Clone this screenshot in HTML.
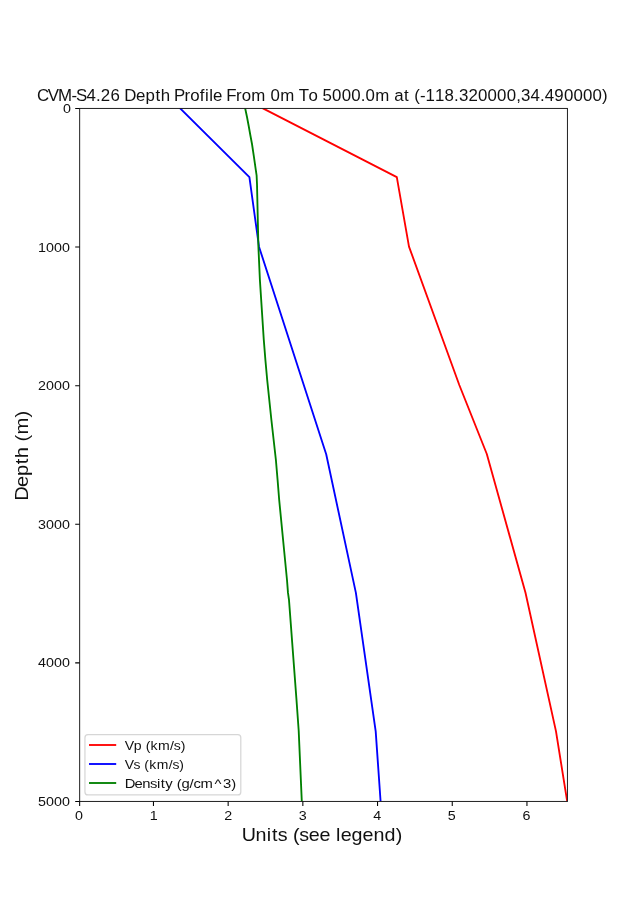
<!DOCTYPE html>
<html><head><meta charset="utf-8"><title>CVM-S4.26 Depth Profile</title><style>
html,body{margin:0;padding:0;background:#fff;}
svg{display:block;font-family:"Liberation Sans", sans-serif;will-change:transform;}
text{fill:#111;}
</style></head><body>
<svg width="630" height="900" viewBox="0 0 630 900">
<rect x="0" y="0" width="630" height="900" fill="#fff"/>
<text x="34.23 44.25 53.69 66.07 70.38 80.06 88.85 93.30 102.12 110.91 114.99 125.90 134.57 143.86 148.81 157.58 160.94 170.58 175.93 184.79 189.59 193.45 197.04 205.68 209.28 218.29 223.65 232.49 245.78 250.23 259.24 272.54 276.38 285.29 293.91 298.36 307.18 316.01 324.84 333.63 338.08 347.09 360.38 364.67 373.81 378.73 383.22 388.43 393.60 402.43 411.26 420.05 424.49 433.32 442.15 450.98 459.80 468.63 477.42 481.87 490.70 499.49 503.93 512.76 521.59 530.42 539.24 548.07 556.93" y="101" font-size="15.60" transform="scale(1.0811,1)">CVM-S4.26 Depth Profile From 0m To 5000.0m at (-118.320000,34.490000)</text>
<defs><clipPath id="ax"><rect x="78.75" y="108" width="488.5" height="693.5"/></clipPath></defs>
<g clip-path="url(#ax)" fill="none" stroke-width="1.85" stroke-linejoin="round" stroke-linecap="square">
<polyline points="263.3,108.5 396.8,177.1 409.0,246.6 459.3,385.0 486.8,454.0 525.5,592.8 556.0,731.4 567.2,801.5" stroke="#ff0000"/>
<polyline points="180.3,108.5 249.4,177.1 259.0,246.7 326.2,454.3 355.9,592.9 375.7,731.4 380.6,801.5" stroke="#0000ff"/>
<polyline points="245.2,108.5 247.0,117.0 248.7,126.0 250.4,135.5 252.0,144.0 254.0,157.3 255.9,170.7 256.6,175.3 257.0,184.0 258.4,246.7 259.9,280.0 263.8,340.0 265.4,360.0 267.2,380.0 271.4,420.0 275.9,460.0 277.6,480.0 279.2,500.0 287.0,580.0 288.0,592.9 289.0,600.0 295.0,680.0 296.5,700.0 298.7,730.8 301.8,801.5" stroke="#008000"/>
</g>
<rect x="79.65" y="108.45" width="487.8" height="693" fill="none" stroke="#202020" stroke-width="1"/>
<path d="M79.65 801.45V805.9 M153.45 801.45V805.9 M228.15 801.45V805.9 M302.85 801.45V805.9 M377.55 801.45V805.9 M452.25 801.45V805.9 M526.95 801.45V805.9 M75.2 108.45H79.65 M75.2 247.05H79.65 M75.2 385.65H79.65 M75.2 524.25H79.65 M75.2 662.85H79.65 M75.2 801.45H79.65" stroke="#000" stroke-width="1.05" fill="none"/>
<text x="68.30" y="820" font-size="13.00" transform="scale(1.1000,1)">0</text>
<text x="136.07" y="820" font-size="13.00" transform="scale(1.1000,1)">1</text>
<text x="203.84" y="820" font-size="13.00" transform="scale(1.1000,1)">2</text>
<text x="271.62" y="820" font-size="13.00" transform="scale(1.1000,1)">3</text>
<text x="339.39" y="820" font-size="13.00" transform="scale(1.1000,1)">4</text>
<text x="407.16" y="820" font-size="13.00" transform="scale(1.1000,1)">5</text>
<text x="474.94" y="820" font-size="13.00" transform="scale(1.1000,1)">6</text>
<text x="57.25" y="113" font-size="13.00" transform="scale(1.1000,1)">0</text>
<text x="34.65 41.88 49.11 56.34" y="252" font-size="13.00" transform="scale(1.1000,1)">1000</text>
<text x="34.65 41.88 49.11 56.34" y="390" font-size="13.00" transform="scale(1.1000,1)">2000</text>
<text x="34.65 41.88 49.11 56.34" y="529" font-size="13.00" transform="scale(1.1000,1)">3000</text>
<text x="34.65 41.88 49.11 56.34" y="667" font-size="13.00" transform="scale(1.1000,1)">4000</text>
<text x="34.65 41.88 49.11 56.34" y="806" font-size="13.00" transform="scale(1.1000,1)">5000</text>
<text x="223.37 235.92 246.33 251.24 256.60 265.40 270.62 276.47 285.14 295.09 305.16 310.49 314.67 324.77 334.88 344.97 355.23 365.54" y="841" font-size="18.20" transform="scale(1.0825,1)">Units (see legend)</text>
<g transform="translate(27.9,500.3) rotate(-90)"><text x="-0.49 11.97 21.85 32.50 38.08 48.13 53.23 59.46 74.79" y="0" font-size="18.20" transform="scale(1.1071,1)">Depth (m)</text></g>
<rect x="84.95" y="734.7" width="155.85" height="60.25" rx="3" ry="3" fill="#fff" fill-opacity="0.8" stroke="#cccccc" stroke-opacity="0.8" stroke-width="1.25"/>
<path d="M89 745H116.2" stroke="#ff0000" stroke-width="1.85"/>
<text x="114.97 123.29 130.58 134.30 138.80 145.58 156.74 160.23 166.57" y="750" font-size="13.00" transform="scale(1.0852,1)">Vp (km/s)</text>
<path d="M89 764H116.2" stroke="#0000ff" stroke-width="1.85"/>
<text x="116.25 124.35 130.67 134.44 138.99 145.87 157.11 160.66 167.05" y="769" font-size="13.00" transform="scale(1.0738,1)">Vs (km/s)</text>
<path d="M89 783H116.2" stroke="#008000" stroke-width="1.85"/>
<text x="109.19 117.86 124.69 131.38 137.56 140.87 144.81 151.23 154.75 158.91 166.04 169.45 175.63 187.91 195.42 202.49" y="788" font-size="13.00" transform="scale(1.1416,1)">Density (g/cm^3)</text>
</svg>
</body></html>
